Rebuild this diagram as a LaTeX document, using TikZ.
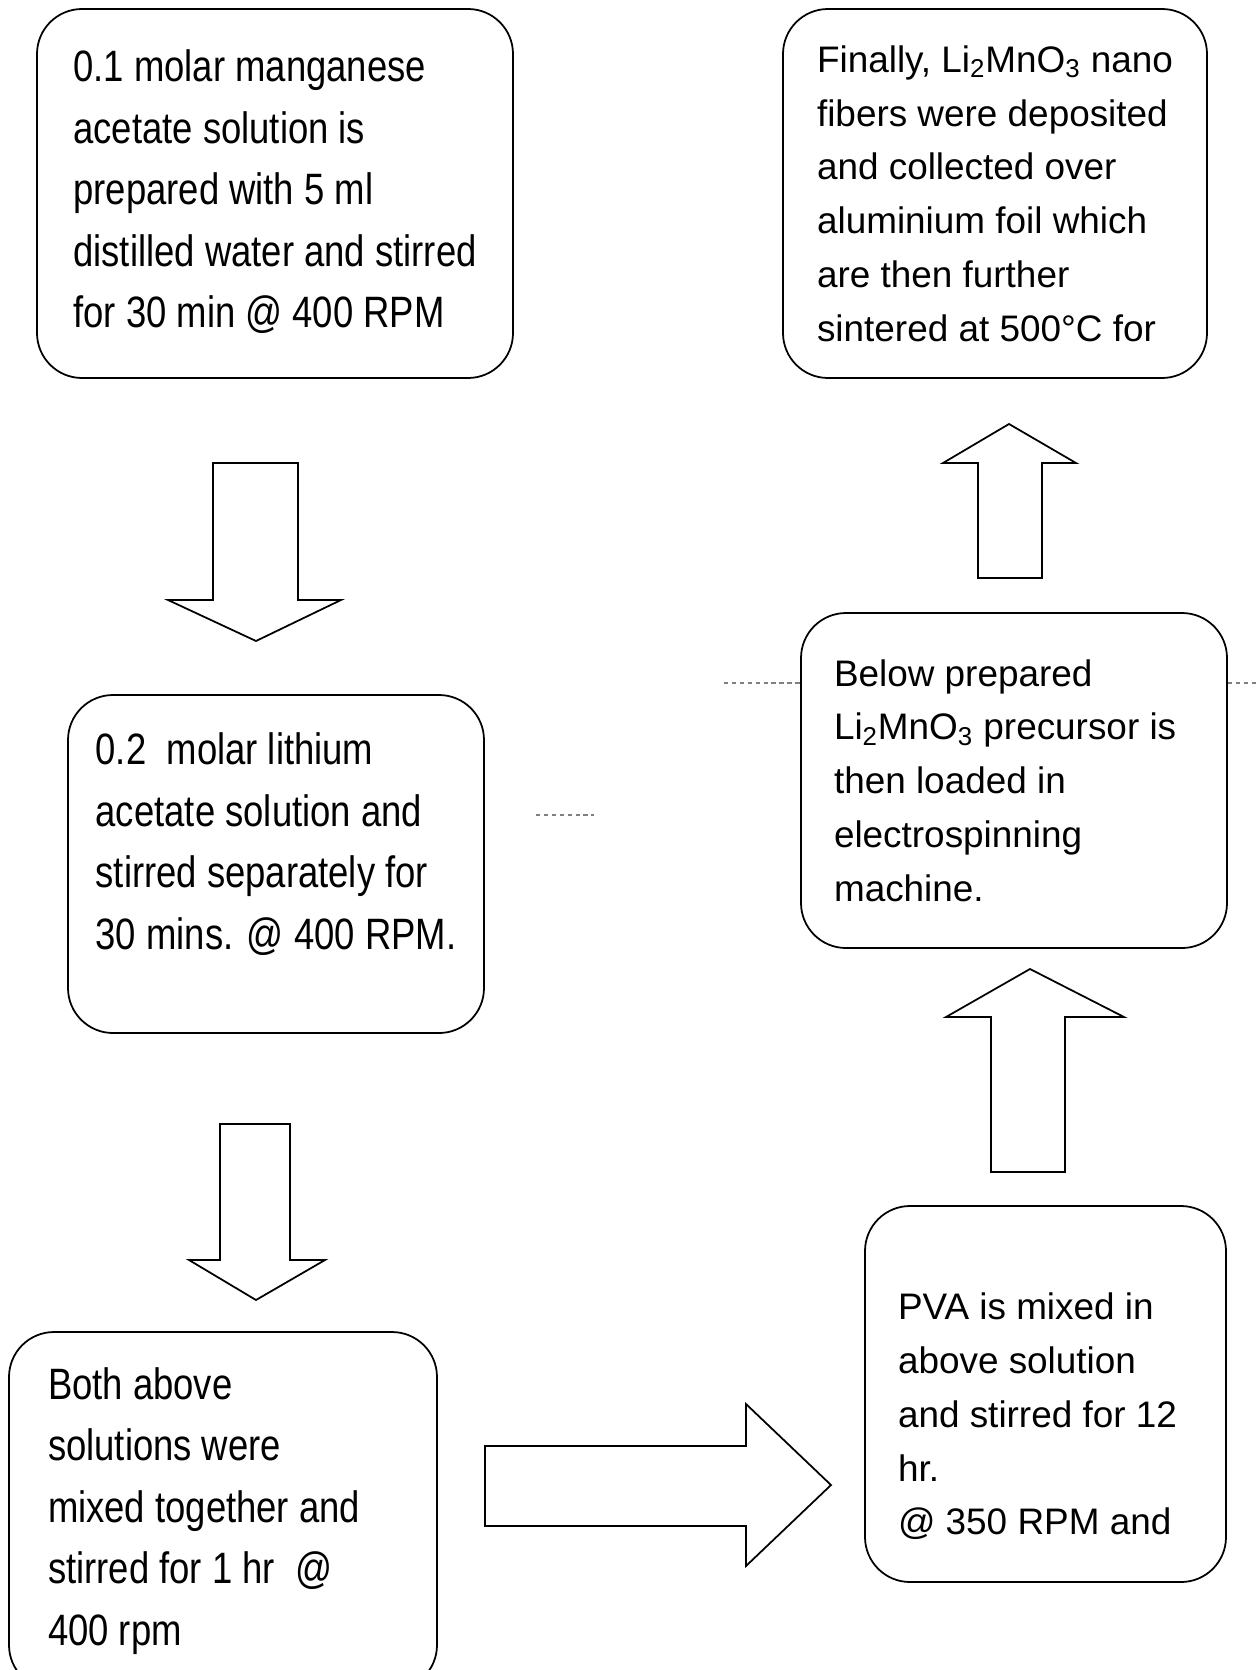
\documentclass[tikz,border=0pt]{standalone}
\usepackage{fontspec}
\setmainfont{Liberation Sans}
\newfontfamily\condfont[FakeStretch=0.83]{Liberation Sans}
\usepackage{tikz}
\usetikzlibrary{calc}

\tikzset{
  stepbox/.style={draw, line width=1pt, rounded corners=0.9cm, inner sep=0pt, align=flush left},
  leftbox/.style={stepbox, font=\condfont\fontsize{25}{35}\selectfont},
  rightbox/.style={stepbox, font=\fontsize{21}{30.6}\selectfont},
  blockarrow/.style={draw, line width=1pt, fill=white},
  dots/.style={draw=gray, line width=0.7pt, dash pattern=on 2.5pt off 2pt}
}

\begin{document}
\begin{tikzpicture}
  \clip (0,0) rectangle (25.14,-33.40);
  \fill [white] (0,0) rectangle (25.14,-33.40);

  % left column
  \node [leftbox, minimum width=9.52cm, minimum height=7.38cm] (manganese) at (5.50,-3.87)
    {0.1 molar manganese\\acetate solution is\\prepared with 5 ml\\distilled water and stirred\\for 30 min @ 400 RPM\\[-1.05cm]};
  \node [leftbox, minimum width=8.32cm, minimum height=6.76cm] (lithium) at (5.52,-17.28)
    {0.2\ \ molar lithium\\acetate solution and\\stirred separately for\\30 mins. @ 400 RPM.\\[-0.31cm]};
  \node [leftbox, text width=7.0cm, minimum width=8.56cm, minimum height=7.16cm] (mixing) at (4.46,-30.22)
    {Both above\\solutions were\\mixed together and\\stirred for 1 hr\ \ @\\400 rpm};

  % right column
  \node [rightbox, text width=5.9cm, minimum width=7.22cm, minimum height=7.52cm] (pva) at (20.91,-27.88)
    {\\[0.36cm]PVA is mixed in\\above solution\\and stirred for 12\\hr.\\@ 350 RPM and};
  \node [rightbox, text width=7.2cm, minimum width=8.52cm, minimum height=6.70cm] (loading) at (20.28,-15.61)
    {Below prepared\\Li\textsubscript{2}MnO\textsubscript{3} precursor is\\then loaded in\\electrospinning\\machine.};
  \node [rightbox, minimum width=8.48cm, minimum height=7.38cm] (sintering) at (19.90,-3.87)
    {Finally, Li\textsubscript{2}MnO\textsubscript{3} nano\\fibers were deposited\\and collected over\\aluminium foil which\\are then further\\sintered at 500°C for};

  % block arrows
  \draw [blockarrow] (4.26,-9.26) -- (5.96,-9.26) -- (5.96,-12.00) -- (6.82,-12.00) -- (5.12,-12.82)
    -- (3.36,-12.00) -- (4.26,-12.00) -- cycle;
  \draw [blockarrow] (4.40,-22.48) -- (5.80,-22.48) -- (5.80,-25.20) -- (6.50,-25.20) -- (5.12,-26.00)
    -- (3.78,-25.20) -- (4.40,-25.20) -- cycle;
  \draw [blockarrow] (9.70,-28.92) -- (14.92,-28.92) -- (14.92,-28.08) -- (16.62,-29.70) -- (14.92,-31.32)
    -- (14.92,-30.52) -- (9.70,-30.52) -- cycle;
  \draw [blockarrow] (19.82,-23.44) -- (19.82,-20.34) -- (18.92,-20.34) -- (20.60,-19.38) -- (22.48,-20.34)
    -- (21.30,-20.34) -- (21.30,-23.44) -- cycle;
  \draw [blockarrow] (19.56,-11.56) -- (19.56,-9.26) -- (18.86,-9.26) -- (20.18,-8.48) -- (21.52,-9.26)
    -- (20.84,-9.26) -- (20.84,-11.56) -- cycle;

  % dotted bits
  \coordinate (dotA) at (10.72,-16.30);
  \coordinate (dotB) at (14.48,-13.66);
  \coordinate (dotC) at (25.14,-13.66);
  \draw [dots] (dotA) -- ++(1.16,0);
  \draw [dots] (dotB) -- (loading.west |- dotB);
  \draw [dots] (loading.east |- dotC) -- (dotC);
\end{tikzpicture}
\end{document}
